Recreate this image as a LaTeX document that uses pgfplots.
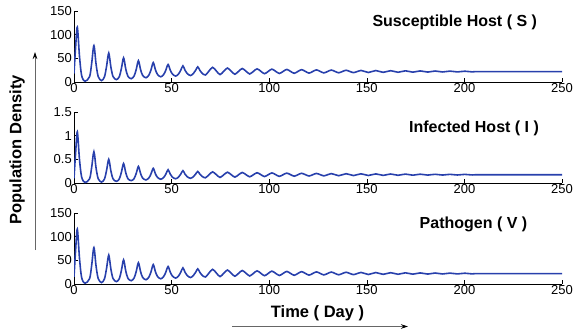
\documentclass[border=0pt]{standalone}
\usepackage{fontspec}
\setmainfont{Liberation Sans}
\usepackage{pgfplots}
\pgfplotsset{compat=1.18}
\usepackage{pgfplotstable}
\usetikzlibrary{arrows.meta}

\definecolor{curve}{RGB}{40,64,172}

% t, susceptible host, infected host, pathogen
\pgfplotstableread{
t S I V
0 18 0.10 15
0.8 72 0.62 70
1.7 116 1.08 116
2.8 55 0.50 55
3.9 14 0.13 14
5.6 1.5 0.01 1.5
8.0 11.5 0.09 11.5
9.1 41 0.345 41
10.2 77 0.66 77
11.3 38 0.318 38
12.4 11.4 0.09 11.4
14.1 3 0.02 3
15.6 10.8 0.083 10.8
16.7 33.5 0.27 33.5
17.8 61 0.50 61
18.9 31.5 0.254 31.5
20.0 11.6 0.088 11.6
21.7 5 0.035 5
23.2 11.2 0.085 11.2
24.3 29 0.23 29
25.4 51 0.41 51
26.5 27.8 0.22 27.8
27.6 12.2 0.092 12.2
29.3 7 0.05 7
30.8 12.7 0.095 12.7
31.9 26.8 0.206 26.8
33.0 45 0.35 45
34.1 26.3 0.202 26.3
35.2 13.7 0.102 13.7
36.9 9 0.065 9
38.4 14.8 0.109 14.8
39.5 26.3 0.197 26.3
40.6 41 0.31 41
41.7 26 0.195 26
42.8 15.8 0.117 15.8
44.5 11 0.08 11
46.0 16.2 0.12 16.2
47.1 25.6 0.192 25.6
48.2 37 0.28 37
49.3 25.2 0.189 25.2
50.4 16.9 0.124 16.9
52.1 12.5 0.09 12.5
53.6 17.2 0.127 17.2
54.7 25.0 0.189 25.0
55.8 34 0.26 34
56.9 24.7 0.186 24.7
58.0 17.8 0.132 17.8
59.7 13.7 0.10 13.7
61.2 18.1 0.135 18.1
62.3 24.7 0.187 24.7
63.4 32 0.245 32
64.5 24.4 0.186 24.4
65.6 18.6 0.14 18.6
67.3 14.8 0.11 14.8
69.1 22.9 0.173 22.9
71.0 31 0.235 31
72.9 23.4 0.177 23.4
74.8 15.7 0.118 15.7
76.7 22.6 0.173 22.6
78.6 29.5 0.228 29.5
80.5 23.0 0.177 23.0
82.4 16.4 0.125 16.4
84.3 22.5 0.174 22.5
86.2 28.5 0.222 28.5
88.1 22.8 0.177 22.8
90.0 17 0.131 17
91.9 22.4 0.174 22.4
93.8 27.8 0.217 27.8
95.7 22.7 0.177 22.7
97.6 17.5 0.136 17.5
99.5 22.4 0.175 22.4
101.4 27.2 0.213 27.2
103.3 22.6 0.177 22.6
105.2 18 0.140 18
107.1 22.3 0.175 22.3
109.0 26.6 0.209 26.6
110.9 22.5 0.177 22.5
112.8 18.4 0.144 18.4
114.7 22.3 0.175 22.3
116.6 26.1 0.205 26.1
118.5 22.5 0.177 22.5
120.4 18.8 0.148 18.8
122.3 22.2 0.175 22.2
124.2 25.6 0.202 25.6
126.1 22.4 0.177 22.4
128.0 19.2 0.151 19.2
129.9 22.2 0.175 22.2
131.8 25.2 0.199 25.2
133.7 22.4 0.177 22.4
135.6 19.5 0.154 19.5
137.5 22.2 0.175 22.2
139.4 24.8 0.196 24.8
141.3 22.3 0.177 22.3
143.2 19.8 0.157 19.8
145.1 22.15 0.176 22.15
147.0 24.5 0.194 24.5
148.9 22.3 0.177 22.3
150.8 20.1 0.159 20.1
152.7 22.15 0.176 22.15
154.6 24.2 0.192 24.2
156.5 22.3 0.177 22.3
158.4 20.4 0.161 20.4
160.3 22.15 0.176 22.15
162.2 23.9 0.190 23.9
164.1 22.25 0.177 22.25
166.0 20.6 0.163 20.6
167.9 22.1 0.176 22.1
169.8 23.6 0.188 23.6
171.7 22.2 0.177 22.2
173.6 20.8 0.165 20.8
175.5 22.1 0.176 22.1
177.4 23.4 0.186 23.4
179.3 22.2 0.177 22.2
181.2 21.0 0.167 21.0
183.1 22.1 0.176 22.1
185.0 23.2 0.184 23.2
186.9 22.2 0.176 22.2
188.8 21.2 0.168 21.2
190.7 22.1 0.176 22.1
192.6 23.0 0.183 23.0
194.5 22.15 0.176 22.15
196.4 21.3 0.169 21.3
198.3 22.05 0.176 22.05
200.2 22.8 0.182 22.8
202.1 22.1 0.176 22.1
204.0 21.4 0.170 21.4
205.9 22.0 0.175 22.0
210 22.0 0.175 22.0
250 22.0 0.175 22.0
}\dyn

\pgfplotsset{
  popaxis/.style={
    scale only axis, width=488pt, height=71pt,
    anchor=south west,
    xmin=0, xmax=250, xtick={0,50,...,250},
    axis x line=bottom, axis y line=left,
    axis line style={-, line width=0.5pt},
    tick align=inside,
    major tick length=4pt,
    tick style={black, line width=0.5pt},
    tick label style={font=\fontsize{13}{15}\selectfont},
    xticklabel style={inner sep=1.5pt},
    yticklabel style={inner sep=2pt},
    /pgf/number format/assume math mode=true,
  },
}
\tikzset{ttl/.style={anchor=east, font=\bfseries\fontsize{16}{19}\selectfont}}

\begin{document}
\begin{tikzpicture}
\useasboundingbox (0,0) rectangle (576pt,333pt);

% Susceptible host
\begin{axis}[popaxis, at={(74pt,251pt)}, ymin=0, ymax=150, ytick={0,50,100,150}]
\addplot[curve, line width=1.6pt, smooth, no markers] table[x=t, y=S] {\dyn};
\node[ttl] at (axis cs:239,125) {Susceptible Host ( S )};
\end{axis}

% Infected host
\begin{axis}[popaxis, at={(74pt,150pt)}, ymin=0, ymax=1.5, ytick={0,0.5,1,1.5}]
\addplot[curve, line width=1.6pt, smooth, no markers] table[x=t, y=I] {\dyn};
\node[ttl] at (axis cs:240,1.16) {Infected Host ( I )};
\end{axis}

% Pathogen
\begin{axis}[popaxis, at={(74pt,49pt)}, ymin=0, ymax=150, ytick={0,50,100,150}]
\addplot[curve, line width=1.6pt, smooth, no markers] table[x=t, y=V] {\dyn};
\node[ttl] at (axis cs:234,125) {Pathogen ( V )};
\end{axis}

\node[rotate=90, font=\bfseries\fontsize{16.5}{19}\selectfont] at (17pt,183pt) {Population Density};
\draw[black!60, line width=0.7pt, -{Stealth[length=7pt,width=4.5pt,black]}] (35pt,83pt) -- (35pt,281pt);
\node[font=\bfseries\fontsize{16.5}{19}\selectfont] at (317.5pt,20pt) {Time ( Day )};
\draw[black!60, line width=0.7pt, -{Stealth[length=7pt,width=4.5pt,black]}] (232pt,6.5pt) -- (408pt,6.5pt);
\end{tikzpicture}
\end{document}
